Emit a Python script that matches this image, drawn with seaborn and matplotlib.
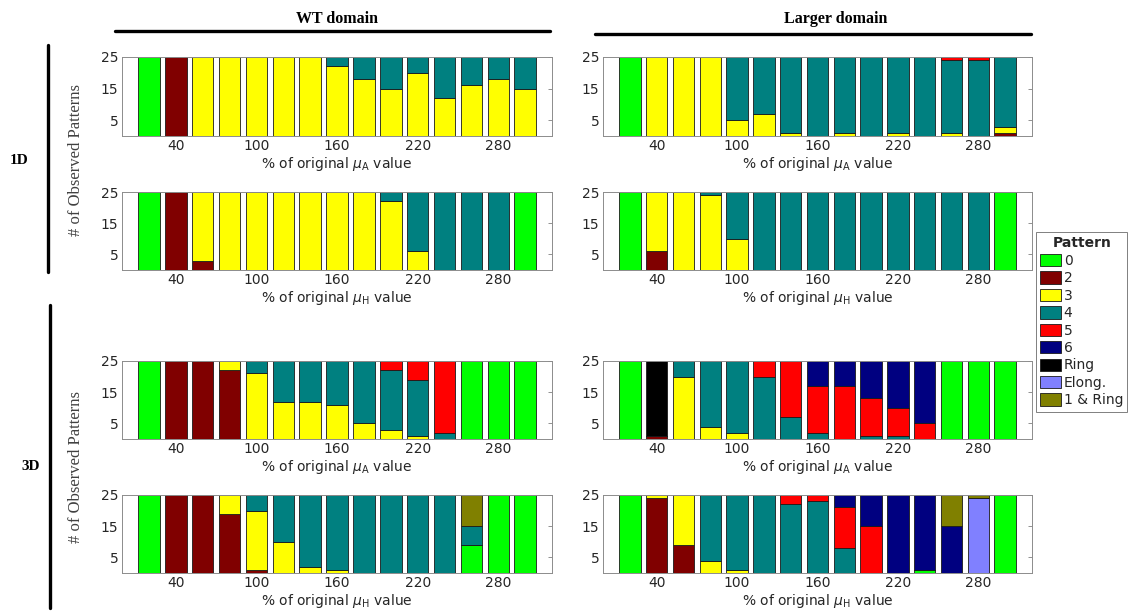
import numpy as np
import pandas as pd
import matplotlib
matplotlib.use("Agg")
import matplotlib.pyplot as plt
from matplotlib.patches import Patch
from matplotlib.lines import Line2D
import seaborn as sns

sns.set_theme(style="white")
plt.rcParams['font.family'] = ['DejaVu Sans']

# ---------------------------------------------------------------- data
percent_levels = [20, 40, 60, 80, 100, 120, 140, 160, 180, 200, 220, 240, 260, 280, 300]
tick_values = [40, 100, 160, 220, 280]
count_ticks = [5, 15, 25]

pattern_names = ['0', '2', '3', '4', '5', '6', 'Ring', 'Elong.', '1 & Ring']
pattern_colors = ['#00ff00', '#800000', '#ffff00', '#008080', '#ff0000',
                  '#000080', '#000000', '#8080ff', '#808000']

# WT domain, 1D, varying mu_A
wt_1d_mu_a = {
    '0': [25, 0, 0, 0, 0, 0, 0, 0, 0, 0, 0, 0, 0, 0, 0],
    '2': [0, 25, 0, 0, 0, 0, 0, 0, 0, 0, 0, 0, 0, 0, 0],
    '3': [0, 0, 25, 25, 25, 25, 25, 22, 18, 15, 20, 12, 16, 18, 15],
    '4': [0, 0, 0, 0, 0, 0, 0, 3, 7, 10, 5, 13, 9, 7, 10],
}
# Larger domain, 1D, varying mu_A
large_1d_mu_a = {
    '0': [25, 0, 0, 0, 0, 0, 0, 0, 0, 0, 0, 0, 0, 0, 0],
    '2': [0, 0, 0, 0, 0, 0, 0, 0, 0, 0, 0, 0, 0, 0, 1],
    '3': [0, 25, 25, 25, 5, 7, 1, 0, 1, 0, 1, 0, 1, 0, 2],
    '4': [0, 0, 0, 0, 20, 18, 24, 25, 24, 25, 24, 25, 23, 24, 22],
    '5': [0, 0, 0, 0, 0, 0, 0, 0, 0, 0, 0, 0, 1, 1, 0],
}
# WT domain, 1D, varying mu_H
wt_1d_mu_h = {
    '0': [25, 0, 0, 0, 0, 0, 0, 0, 0, 0, 0, 0, 0, 0, 25],
    '2': [0, 25, 3, 0, 0, 0, 0, 0, 0, 0, 0, 0, 0, 0, 0],
    '3': [0, 0, 22, 25, 25, 25, 25, 25, 25, 22, 6, 0, 0, 0, 0],
    '4': [0, 0, 0, 0, 0, 0, 0, 0, 0, 3, 19, 25, 25, 25, 0],
}
# Larger domain, 1D, varying mu_H
large_1d_mu_h = {
    '0': [25, 0, 0, 0, 0, 0, 0, 0, 0, 0, 0, 0, 0, 0, 25],
    '2': [0, 6, 0, 0, 0, 0, 0, 0, 0, 0, 0, 0, 0, 0, 0],
    '3': [0, 19, 25, 24, 10, 0, 0, 0, 0, 0, 0, 0, 0, 0, 0],
    '4': [0, 0, 0, 1, 15, 25, 25, 25, 25, 25, 25, 25, 25, 25, 0],
}
# WT domain, 3D, varying mu_A
wt_3d_mu_a = {
    '0': [25, 0, 0, 0, 0, 0, 0, 0, 0, 0, 0, 0, 25, 25, 25],
    '2': [0, 25, 25, 22, 0, 0, 0, 0, 0, 0, 0, 0, 0, 0, 0],
    '3': [0, 0, 0, 3, 21, 12, 12, 11, 5, 3, 1, 0, 0, 0, 0],
    '4': [0, 0, 0, 0, 4, 13, 13, 14, 20, 19, 18, 2, 0, 0, 0],
    '5': [0, 0, 0, 0, 0, 0, 0, 0, 0, 3, 6, 23, 0, 0, 0],
}
# Larger domain, 3D, varying mu_A
large_3d_mu_a = {
    '0': [25, 0, 0, 0, 0, 0, 0, 0, 0, 0, 0, 0, 25, 25, 25],
    '2': [0, 1, 0, 0, 0, 0, 0, 0, 0, 0, 0, 0, 0, 0, 0],
    '3': [0, 0, 20, 4, 2, 0, 0, 0, 0, 0, 0, 0, 0, 0, 0],
    '4': [0, 0, 5, 21, 23, 20, 7, 2, 0, 1, 1, 0, 0, 0, 0],
    '5': [0, 0, 0, 0, 0, 5, 18, 15, 17, 12, 9, 5, 0, 0, 0],
    '6': [0, 0, 0, 0, 0, 0, 0, 8, 8, 12, 15, 20, 0, 0, 0],
    'Ring': [0, 24, 0, 0, 0, 0, 0, 0, 0, 0, 0, 0, 0, 0, 0],
}
# WT domain, 3D, varying mu_H
wt_3d_mu_h = {
    '0': [25, 0, 0, 0, 0, 0, 0, 0, 0, 0, 0, 0, 9, 25, 25],
    '2': [0, 25, 25, 19, 1, 0, 0, 0, 0, 0, 0, 0, 0, 0, 0],
    '3': [0, 0, 0, 6, 19, 10, 2, 1, 0, 0, 0, 0, 0, 0, 0],
    '4': [0, 0, 0, 0, 5, 15, 23, 24, 25, 25, 25, 25, 6, 0, 0],
    '1 & Ring': [0, 0, 0, 0, 0, 0, 0, 0, 0, 0, 0, 0, 10, 0, 0],
}
# Larger domain, 3D, varying mu_H
large_3d_mu_h = {
    '0': [25, 0, 0, 0, 0, 0, 0, 0, 0, 0, 0, 1, 0, 0, 25],
    '2': [0, 24, 9, 0, 0, 0, 0, 0, 0, 0, 0, 0, 0, 0, 0],
    '3': [0, 1, 16, 4, 1, 0, 0, 0, 0, 0, 0, 0, 0, 0, 0],
    '4': [0, 0, 0, 21, 24, 25, 22, 23, 8, 0, 0, 0, 0, 0, 0],
    '5': [0, 0, 0, 0, 0, 0, 3, 2, 13, 15, 0, 0, 0, 0, 0],
    '6': [0, 0, 0, 0, 0, 0, 0, 0, 4, 10, 25, 24, 15, 0, 0],
    'Elong.': [0, 0, 0, 0, 0, 0, 0, 0, 0, 0, 0, 0, 0, 24, 0],
    '1 & Ring': [0, 0, 0, 0, 0, 0, 0, 0, 0, 0, 0, 0, 10, 1, 0],
}

# ---------------------------------------------------------------- layout
W, H = 1136, 613
fig = plt.figure(figsize=(W / 100, H / 100), dpi=100)
fig.patch.set_facecolor('white')

def px_axes(x0, y0, x1, y1):
    return fig.add_axes([x0 / W, 1 - y1 / H, (x1 - x0) / W, (y1 - y0) / H])

col_x = [(122, 552), (603, 1032)]
row_y = [(57, 136), (192, 270), (361, 439), (495, 573)]

palette = dict(zip(pattern_names, pattern_colors))

label_a = r'% of original $\mu_{\mathrm{A}}$ value'
label_h = r'% of original $\mu_{\mathrm{H}}$ value'

panels = [
    (0, 0, wt_1d_mu_a, label_a), (0, 1, large_1d_mu_a, label_a),
    (1, 0, wt_1d_mu_h, label_h), (1, 1, large_1d_mu_h, label_h),
    (2, 0, wt_3d_mu_a, label_a), (2, 1, large_3d_mu_a, label_a),
    (3, 0, wt_3d_mu_h, label_h), (3, 1, large_3d_mu_h, label_h),
]


def draw_panel(ax, counts, xlabel):
    rows = []
    for pat, vals in counts.items():
        for x, v in zip(percent_levels, vals):
            rows.append((x, pat, v))
    df = pd.DataFrame(rows, columns=['percent', 'pattern', 'count'])
    present = [p for p in pattern_names if p in counts]
    # seaborn stacks the last hue level at the bottom
    sns.histplot(data=df, x='percent', weights='count', hue='pattern',
                 hue_order=present[::-1], palette=palette,
                 multiple='stack', binwidth=20, binrange=(10, 310), shrink=0.8,
                 alpha=1, edgecolor='#1a1a1a', linewidth=0.6,
                 legend=False, ax=ax)
    ax.set_xlim(0, 320)
    ax.set_ylim(0, 25)
    ax.set_xticks(tick_values)
    ax.set_yticks(count_ticks)
    ax.set_ylabel('')
    ax.set_xlabel(xlabel, fontsize=10, color='#262626', labelpad=1)
    ax.tick_params(direction='in', length=3, width=0.6, top=True, right=True,
                   color='#808080', labelcolor='#262626', labelsize=10, pad=2.5)
    for s in ax.spines.values():
        s.set_visible(True)
        s.set_color('#8c8c8c')
        s.set_linewidth(0.7)


for r, c, counts, xl in panels:
    ax = px_axes(col_x[c][0], row_y[r][0], col_x[c][1], row_y[r][1])
    draw_panel(ax, counts, xl)

# ---------------------------------------------------------------- annotations
def fx(x):
    return x / W

def fy(y):
    return 1 - y / H

serif = ['Liberation Serif', 'DejaVu Serif']

fig.text(fx(337), fy(19), 'WT domain', ha='center', va='center',
         fontsize=11.5, fontweight='bold', family=serif, color='black')
fig.text(fx(836), fy(19), 'Larger domain', ha='center', va='center',
         fontsize=11.5, fontweight='bold', family=serif, color='black')
fig.add_artist(Line2D([fx(115), fx(550)], [fy(31), fy(31)], color='black', lw=2.4))
fig.add_artist(Line2D([fx(595), fx(1031)], [fy(34), fy(34)], color='black', lw=2.4))

fig.text(fx(19), fy(160), '1D', ha='center', va='center',
         fontsize=11, fontweight='bold', family=serif, color='black')
fig.text(fx(31), fy(466), '3D', ha='center', va='center',
         fontsize=11, fontweight='bold', family=serif, color='black')
fig.add_artist(Line2D([fx(48), fx(48)], [fy(45), fy(272)], color='black', lw=2.4))
fig.add_artist(Line2D([fx(50), fx(50)], [fy(305), fy(608)], color='black', lw=2.4))

fig.text(fx(76), fy(160), '# of Observed Patterns', ha='center', va='center',
         rotation=90, fontsize=12, family=serif, color='#404040')
fig.text(fx(76), fy(467), '# of Observed Patterns', ha='center', va='center',
         rotation=90, fontsize=12, family=serif, color='#404040')

# ---------------------------------------------------------------- legend
handles = [Patch(facecolor=col, edgecolor='#1a1a1a', linewidth=0.6)
           for col in pattern_colors]
leg = fig.legend(handles, pattern_names, title='Pattern', loc='upper left',
                 bbox_to_anchor=(fx(1036), fy(232)), frameon=True, fancybox=False,
                 edgecolor='#808080', framealpha=1, fontsize=10,
                 title_fontproperties={'weight': 'bold', 'size': 10},
                 labelspacing=0.25, handlelength=1.5, handleheight=1.0,
                 handletextpad=0.2, borderpad=0.3, borderaxespad=0)
leg.get_frame().set_linewidth(0.7)
for t in leg.get_texts():
    t.set_color('#262626')

fig.savefig('out.png', dpi=100)
